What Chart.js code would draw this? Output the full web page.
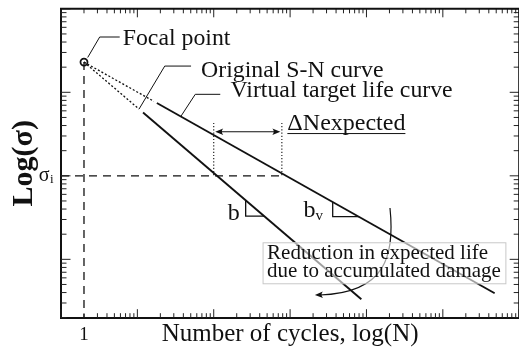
<!DOCTYPE html>
<html>
<head>
<meta charset="utf-8">
<script src="https://cdn.jsdelivr.net/npm/chart.js@4/dist/chart.umd.min.js"></script>
<style>
  html, body { margin: 0; padding: 0; background: #fff; }
  #frame { width: 519px; height: 354px; overflow: hidden; position: relative; }
  canvas { display: block; }
</style>
</head>
<body>
<div id="frame"><canvas id="sn" width="525" height="354" style="width:525px;height:354px"></canvas></div>
<script>
// Schematic stress-life diagram: original S-N curve and the virtual target life curve,
// both pivoting about a common focal point at N = 1 cycle (log-log axes).

// ---- data -------------------------------------------------------------
const xRange = [0.5, 5e5];          // cycles
const yRange = [2, 1e4];            // stress (arbitrary units)

const focalPoint = [{ x: 1, y: 2300 }];

const originalExtrapolated = [{ x: 1, y: 2300 }, { x: 5.26, y: 630 }];
const originalCurve        = [{ x: 5.93, y: 573 }, { x: 4283, y: 3.32 }];

const virtualExtrapolated  = [{ x: 1, y: 2300 }, { x: 8.22, y: 780 }];
const virtualCurve         = [{ x: 9.0, y: 745 }, { x: 238700, y: 3.92 }];

const sigmaI = 100;
const sigmaILine    = [{ x: 0.5, y: sigmaI }, { x: 430, y: sigmaI }];
const unitCycleLine = [{ x: 1, y: 2300 }, { x: 1, y: 2 }];

// lives at sigma_i on the original and the virtual curve
const lifeOriginal = [{ x: 50, y: 430 }, { x: 50, y: sigmaI }];
const lifeVirtual  = [{ x: 390, y: 430 }, { x: 390, y: sigmaI }];
const deltaNLevel  = 337;

// slope triangles
const slopeB  = [{ x: 131, y: 51.1 }, { x: 131, y: 33 }, { x: 229, y: 33 }];
const slopeBv = [{ x: 1806, y: 48.7 }, { x: 1806, y: 32.4 }, { x: 4000, y: 32.4 }];

// tick labels
const xTickLabels = [{ value: 1, text: '1' }];
const yTickLabels = [{ value: sigmaI, text: 'σ', sub: 'i' }];

// ---- annotation layout ---------------------------------------------------
const INK = '#111';
const SERIF = '"Liberation Serif", "DejaVu Serif", serif';

// leader callouts: anchor in data units, path and label offset in px
const callouts = [
  { text: 'Focal point', anchor: { x: 1, y: 2300 },
    path: [[3.7, -4.6], [15.7, -25.1], [35.7, -25.1]], label: [38.7, -17.1] },
  { text: 'Original S-N curve', anchor: { x: 5.26, y: 630 },
    path: [[0, 0], [25.7, -43], [52, -43]], label: [62, -31.6] },
  { text: 'Virtual target life curve', anchor: { x: 18.5, y: 513 },
    path: [[0, 0], [14.5, -22.2], [39.5, -22.2]], label: [49.8, -19.5] }
];

const reductionNote = {
  anchor: { x: 218, y: 16 },
  height: 41, padX: 4.5,
  lines: ['Reduction in expected life', 'due to accumulated damage'],
  baseline: 16.7, lineGap: 17.7
};
// curved arrow (cubic Bezier control points, data units)
const reductionArrow = [
  { x: 10160, y: 41.2 }, { x: 11790, y: 11.26 }, { x: 9020, y: 3.95 }, { x: 1056, y: 3.74 }
];

function decadeTicks(lo, hi, base) {
  const out = [];
  for (let e = 0; base * Math.pow(10, e) <= hi * 1.0001; e++) {
    for (let k = 1; k <= 9; k++) {
      const v = base * k * Math.pow(10, e);
      if (v >= lo * 0.9999 && v <= hi * 1.0001) out.push({ value: v, major: k === 1 });
    }
  }
  return out;
}

function arrowHead(ctx, x, y, angle, len = 8, half = 3.2) {
  ctx.save();
  ctx.translate(x, y);
  ctx.rotate(angle);
  ctx.beginPath();
  ctx.moveTo(0, 0);
  ctx.lineTo(-len, -half);
  ctx.quadraticCurveTo(-len * 0.65, 0, -len, half);
  ctx.closePath();
  ctx.fill();
  ctx.restore();
}

// inward tick marks on all four sides plus the top frame line
const frameTicks = {
  id: 'frameTicks',
  afterDraw(chart) {
    const { ctx, chartArea: a, scales: { x, y } } = chart;
    ctx.save();
    ctx.strokeStyle = '#222';
    ctx.lineWidth = 1;
    ctx.beginPath();
    for (const t of x.ticks) {
      const p = x.getPixelForValue(t.value);
      const len = t.major ? 8.5 : 4.5;
      ctx.moveTo(p, a.bottom); ctx.lineTo(p, a.bottom - len);
      ctx.moveTo(p, a.top); ctx.lineTo(p, a.top + len);
    }
    for (const t of y.ticks) {
      const p = y.getPixelForValue(t.value);
      const len = t.major ? 9.5 : 5.5;
      ctx.moveTo(a.left, p); ctx.lineTo(a.left + len, p);
      ctx.moveTo(a.right, p); ctx.lineTo(a.right - len, p);
    }
    ctx.stroke();
    ctx.strokeStyle = INK;
    ctx.lineWidth = 2;
    ctx.beginPath();
    ctx.moveTo(a.left - 1, a.top); ctx.lineTo(a.right, a.top);
    ctx.moveTo(a.right, a.top); ctx.lineTo(a.right, a.bottom);
    ctx.stroke();
    ctx.restore();
  }
};

const annotations = {
  id: 'snAnnotations',
  afterDatasetsDraw(chart) {
    const ctx = chart.ctx;
    const X = v => chart.scales.x.getPixelForValue(v);
    const Y = v => chart.scales.y.getPixelForValue(v);
    ctx.save();
    ctx.strokeStyle = INK;
    ctx.fillStyle = INK;
    ctx.textBaseline = 'alphabetic';

    // leader callouts
    ctx.lineWidth = 1;
    for (const c of callouts) {
      const ax = X(c.anchor.x), ay = Y(c.anchor.y);
      ctx.beginPath();
      c.path.forEach(([dx, dy], i) => i ? ctx.lineTo(ax + dx, ay + dy) : ctx.moveTo(ax + dx, ay + dy));
      ctx.stroke();
      ctx.font = '23.8px ' + SERIF;
      ctx.fillText(c.text, ax + c.label[0], ay + c.label[1]);
    }

    // delta-N arrow between the two lives
    const x1 = X(lifeOriginal[0].x) + 1.5, x2 = X(lifeVirtual[0].x) - 1.5, ya = Y(deltaNLevel);
    ctx.lineWidth = 1.1;
    ctx.beginPath(); ctx.moveTo(x1 + 4, ya); ctx.lineTo(x2 - 4, ya); ctx.stroke();
    arrowHead(ctx, x1, ya, Math.PI);
    arrowHead(ctx, x2, ya, 0);
    ctx.font = '24px ' + SERIF;
    const dn = 'ΔNexpected';
    const tx = X(lifeVirtual[0].x) + 5.5, ty = ya - 2.2;
    ctx.fillText(dn, tx, ty);
    const w = ctx.measureText(dn).width;
    ctx.lineWidth = 1;
    ctx.beginPath(); ctx.moveTo(tx, ty + 4); ctx.lineTo(tx + w, ty + 4); ctx.stroke();

    // curved arrow for the reduction in expected life
    const b = reductionArrow.map(p => [X(p.x), Y(p.y)]);
    ctx.lineWidth = 1.2;
    ctx.beginPath();
    ctx.moveTo(b[0][0], b[0][1]);
    ctx.bezierCurveTo(b[1][0], b[1][1], b[2][0], b[2][1], b[3][0] + 5, b[3][1]);
    ctx.stroke();
    arrowHead(ctx, b[3][0], b[3][1], Math.atan2(b[3][1] - b[2][1], b[3][0] - b[2][0]));

    // translucent note box
    const bx = X(reductionNote.anchor.x), by = Y(reductionNote.anchor.y);
    ctx.font = '21px ' + SERIF;
    const textW = Math.max(...reductionNote.lines.map(s => ctx.measureText(s).width));
    const bw = textW + 2 * reductionNote.padX, bh = reductionNote.height;
    ctx.fillStyle = 'rgba(255,255,255,0.6)';
    ctx.fillRect(bx, by, bw, bh);
    ctx.strokeStyle = '#c8c8c8';
    ctx.lineWidth = 1;
    ctx.strokeRect(bx + 0.5, by + 0.5, bw, bh);
    ctx.fillStyle = INK;
    reductionNote.lines.forEach((s, i) =>
      ctx.fillText(s, bx + reductionNote.padX, by + reductionNote.baseline + i * reductionNote.lineGap));

    // slope labels
    ctx.font = '24px ' + SERIF;
    ctx.fillText('b', X(slopeB[1].x) - 17.9, Y(slopeB[1].y) + 4);
    const bvx = X(slopeBv[1].x) - 29.3, bvy = Y(slopeBv[1].y);
    ctx.fillText('b', bvx, bvy);
    const bwid = ctx.measureText('b').width;
    ctx.font = '15px ' + SERIF;
    ctx.fillText('v', bvx + bwid, bvy + 3.5);

    // sigma_i tick label
    for (const t of yTickLabels) {
      const yy = Y(t.value);
      ctx.font = '20px ' + SERIF;
      ctx.textAlign = 'right';
      ctx.fillText(t.text, 49.5, yy + 4.7);
      ctx.textAlign = 'left';
      ctx.font = '13px ' + SERIF;
      ctx.fillText(t.sub, 50, yy + 7.2);
    }
    ctx.restore();
  }
};

const line = (data, width, dash) => ({
  data, showLine: true, borderColor: INK, borderWidth: width, borderDash: dash || [],
  pointRadius: 0, tension: 0, fill: false, borderCapStyle: 'butt'
});

new Chart(document.getElementById('sn'), {
  type: 'scatter',
  data: {
    datasets: [
      line(unitCycleLine, 1.3, [8, 6]),
      line(sigmaILine, 1.3, [8, 6]),
      line(lifeOriginal, 1.1, [1.2, 2]),
      line(lifeVirtual, 1.1, [1.2, 2]),
      line(originalExtrapolated, 1.3, [2, 2]),
      line(virtualExtrapolated, 1.3, [2, 2]),
      line(originalCurve, 1.9),
      line(virtualCurve, 1.9),
      line(slopeB, 1.3),
      line(slopeBv, 1.3),
      { data: focalPoint, pointRadius: 3.5, pointBorderWidth: 1.8, pointBorderColor: INK,
        pointBackgroundColor: '#fff', showLine: false }
    ]
  },
  options: {
    responsive: false,
    animation: false,
    events: [],
    layout: { padding: { top: 8.8, right: 0, bottom: 0, left: 0 } },
    plugins: { legend: { display: false }, tooltip: { enabled: false } },
    scales: {
      x: {
        type: 'logarithmic', position: 'bottom', min: xRange[0], max: xRange[1],
        grid: { display: false, drawTicks: false },
        border: { display: true, width: 2, color: INK },
        afterBuildTicks: s => { s.ticks = decadeTicks(xRange[0], xRange[1], 0.5); },
        afterFit: s => { s.height = 36.3; },
        ticks: {
          autoSkip: false, maxRotation: 0, padding: 5.5, color: INK,
          font: { family: SERIF, size: 19 },
          callback: v => { const m = xTickLabels.find(t => Math.abs(t.value - v) < 1e-9); return m ? m.text : ''; }
        },
        title: { display: true, text: 'Number of cycles, log(N)', color: INK,
          font: { family: SERIF, size: 25 }, padding: { top: 0, bottom: 4.4 } }
      },
      y: {
        type: 'logarithmic', position: 'left', min: yRange[0], max: yRange[1],
        grid: { display: false, drawTicks: false },
        border: { display: true, width: 2, color: INK },
        afterBuildTicks: s => { s.ticks = decadeTicks(yRange[0], yRange[1], 1); },
        afterFit: s => { s.width = 61; },
        ticks: { display: false },
        title: { display: true, text: 'Log(σ)', color: INK,
          font: { family: SERIF, size: 30, weight: 'bold' }, padding: { top: 6.2, bottom: 0 } }
      }
    }
  },
  plugins: [frameTicks, annotations]
});
</script>
</body>
</html>
